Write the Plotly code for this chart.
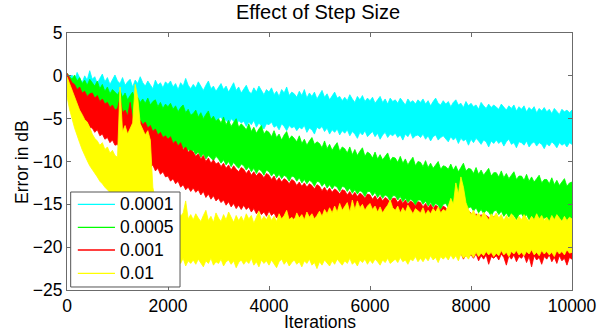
import plotly.graph_objects as go

iterations = list(range(0, 10001, 50))

labels = ["0.0001", "0.0005", "0.001", "0.01"]
colors = ["#00FFFF", "#00FF00", "#FF0000", "#FFFF00"]

cyan_upper = [
    0.3, -0.2, 0.1, -0.6, 0.4, -0.3, -0.8, 0.0, -0.5, 0.6,
    -0.4, -0.1, -0.9, -0.3, 0.2, -0.7, -0.2, -1.0, -0.5, 0.1,
    -0.6, -0.9, -0.2, -1.1, -0.7, -0.4, -1.3, -0.5, -0.9, -0.1,
    -0.8, -1.2, -0.6, -1.0, -1.5, -0.5, -1.1, -0.8, -1.4, -0.7,
    -1.0, -0.6, -1.3, -0.9, -1.6, -0.8, -1.2, -0.3, -1.1, -1.5,
    -1.0, -1.4, -0.7, -1.2, -1.7, -1.1, -0.6, -1.5, -1.2, -1.8,
    -1.3, -0.9, -1.6, -1.2, -1.9, -1.4, -0.8, -1.7, -1.3, -2.0,
    -1.5, -1.1, -1.8, -2.1, -1.4, -1.9, -1.2, -1.7, -2.2, -1.6,
    -1.9, -1.4, -2.2, -1.8, -2.4, -1.6, -2.0, -1.3, -2.3, -1.9,
    -2.1, -2.5, -1.8, -2.3, -1.6, -2.6, -2.0, -2.4, -1.9, -2.7,
    -2.2, -1.7, -2.5, -2.1, -2.8, -2.3, -1.9, -2.6, -2.4, -2.9,
    -2.5, -2.9, -2.2, -2.7, -3.1, -2.4, -2.8, -2.3, -3.0, -2.6,
    -2.9, -2.5, -3.2, -2.8, -2.4, -3.1, -2.7, -3.3, -2.6, -3.0,
    -2.8, -3.2, -2.6, -3.0, -3.4, -2.7, -3.1, -2.9, -3.3, -2.8,
    -3.1, -2.7, -3.3, -2.9, -3.5, -3.0, -2.6, -3.2, -3.4, -2.9,
    -3.3, -3.0, -3.6, -3.1, -2.8, -3.4, -3.2, -3.7, -3.0, -3.5,
    -3.2, -3.6, -3.4, -3.9, -3.1, -3.5, -3.8, -3.3, -3.7, -3.4,
    -3.6, -3.9, -3.3, -3.7, -4.0, -3.5, -3.8, -3.4, -4.1, -3.6,
    -3.9, -3.5, -4.2, -3.7, -4.0, -3.6, -4.3, -3.8, -4.1, -3.7,
    -4.2, -3.9, -4.4, -3.8, -4.1, -4.5, -3.9, -4.2, -4.0, -4.3,
    -4.0,
]
cyan_lower = [
    -1.8, -2.4, -2.1, -2.8, -2.5, -3.0, -2.6, -3.2, -2.9, -3.1,
    -3.4, -3.0, -3.6, -3.2, -3.9, -3.3, -3.5, -4.0, -3.4, -3.8,
    -3.6, -4.1, -3.8, -3.5, -4.3, -3.9, -4.0, -4.6, -3.8, -4.2,
    -4.4, -4.0, -4.7, -4.2, -4.5, -4.1, -4.9, -4.3, -4.6, -4.4,
    -4.5, -4.9, -4.3, -4.7, -5.2, -4.5, -4.8, -4.4, -5.1, -4.7,
    -4.9, -5.3, -4.6, -5.0, -4.8, -5.5, -4.9, -5.2, -4.7, -5.4,
    -5.0, -4.8, -5.4, -5.1, -5.7, -5.0, -5.3, -5.8, -5.2, -5.5,
    -5.3, -5.9, -5.4, -5.7, -5.2, -6.0, -5.5, -5.8, -6.2, -5.6,
    -5.7, -5.4, -6.0, -5.8, -6.3, -5.6, -5.9, -6.4, -5.8, -6.1,
    -5.9, -6.4, -6.0, -6.2, -5.8, -6.6, -6.1, -6.3, -6.8, -6.0,
    -6.2, -5.9, -6.5, -6.1, -6.8, -6.3, -6.6, -6.2, -6.9, -6.4,
    -6.7, -6.3, -7.0, -6.5, -6.8, -7.3, -6.6, -6.9, -6.4, -7.1,
    -6.8, -6.5, -7.1, -6.7, -7.4, -6.9, -6.6, -7.2, -6.8, -7.0,
    -6.7, -7.2, -6.9, -7.5, -6.8, -7.1, -6.6, -7.3, -7.0, -6.9,
    -7.2, -6.8, -7.4, -7.0, -7.6, -7.1, -6.9, -7.5, -7.2, -7.0,
    -7.3, -7.7, -7.1, -7.5, -7.2, -7.9, -7.3, -7.6, -7.4, -8.1,
    -7.4, -7.8, -7.3, -7.6, -8.0, -7.5, -7.7, -8.3, -7.6, -7.9,
    -7.5, -7.9, -7.6, -8.2, -7.7, -7.4, -8.0, -7.8, -8.4, -7.7,
    -7.8, -8.1, -7.6, -8.3, -7.9, -7.7, -8.2, -7.8, -8.0, -8.5,
    -7.9, -8.2, -7.7, -8.0, -8.4, -7.8, -8.1, -7.9, -8.3, -7.8,
    -8.0,
]

green_upper = [
    0.3, 0.0, -0.4, 0.1, -0.6, -0.2, -0.9, -0.5, -1.1, -0.4,
    -0.8, -1.2, -0.6, -1.5, -1.0, -1.8, -1.3, -2.1, -1.6, -1.9,
    -2.2, -1.7, -2.5, -2.0, -2.8, -2.3, -1.9, -2.9, -2.5, -3.1,
    -2.7, -3.2, -2.6, -3.4, -3.0, -2.8, -3.6, -3.1, -3.8, -3.3,
    -3.6, -3.2, -3.9, -3.5, -4.2, -3.7, -3.4, -4.3, -3.9, -4.6,
    -4.4, -4.0, -4.8, -4.3, -5.0, -4.5, -4.1, -5.1, -4.7, -5.3,
    -5.0, -5.5, -4.8, -5.7, -5.2, -5.9, -5.4, -5.0, -6.0, -5.6,
    -5.9, -6.3, -5.6, -6.5, -6.0, -6.7, -6.2, -5.8, -6.8, -6.4,
    -6.6, -7.1, -6.4, -7.2, -6.8, -7.5, -6.9, -6.5, -7.4, -7.0,
    -7.3, -7.7, -7.0, -7.9, -7.4, -8.1, -7.6, -7.2, -8.0, -7.7,
    -7.9, -8.4, -7.6, -8.5, -8.0, -8.7, -8.2, -7.8, -8.8, -8.3,
    -8.5, -9.0, -8.3, -9.2, -8.6, -9.3, -8.8, -8.4, -9.4, -8.9,
    -9.1, -9.6, -8.9, -9.7, -9.2, -9.8, -9.4, -9.0, -9.9, -9.5,
    -9.6, -10.1, -9.4, -10.2, -9.7, -10.4, -9.9, -9.5, -10.5, -10.0,
    -10.1, -10.6, -9.9, -10.7, -10.2, -10.8, -10.4, -10.0, -10.9, -10.5,
    -10.6, -10.9, -10.3, -11.0, -10.5, -11.2, -10.7, -10.2, -11.1, -10.8,
    -10.9, -11.4, -10.7, -11.5, -11.0, -11.6, -11.2, -10.8, -11.7, -11.3,
    -11.3, -11.8, -11.1, -11.9, -11.4, -12.0, -11.6, -11.2, -12.1, -11.7,
    -11.7, -12.2, -11.5, -12.3, -11.8, -12.4, -12.0, -11.6, -12.5, -12.1,
    -12.1, -12.6, -11.9, -12.7, -12.2, -12.8, -12.4, -12.0, -12.9, -12.5,
    -12.4,
]
green_lower = [
    -2.0, -2.6, -3.1, -2.9, -3.6, -3.3, -4.0, -3.8, -4.3, -4.5,
    -4.4, -4.9, -4.6, -5.2, -5.0, -5.5, -5.3, -5.9, -5.6, -6.1,
    -5.9, -6.4, -6.0, -6.6, -6.3, -6.9, -6.5, -6.8, -7.1, -6.7,
    -7.0, -6.8, -7.4, -7.1, -7.6, -7.3, -7.9, -7.5, -7.8, -8.0,
    -7.7, -8.2, -7.9, -8.5, -8.1, -8.7, -8.3, -8.9, -8.6, -9.0,
    -8.7, -9.2, -8.9, -9.5, -9.1, -9.7, -9.3, -9.6, -9.9, -9.4,
    -9.7, -10.2, -9.8, -10.4, -10.0, -10.6, -10.1, -10.5, -10.8, -10.3,
    -10.5, -11.0, -10.6, -11.2, -10.8, -11.4, -10.9, -11.1, -11.6, -11.0,
    -11.2, -11.7, -11.3, -11.9, -11.5, -12.0, -11.6, -11.8, -12.3, -11.7,
    -11.8, -12.3, -11.9, -12.5, -12.1, -12.6, -12.2, -12.4, -12.9, -12.3,
    -12.4, -12.9, -12.5, -13.1, -12.7, -13.2, -12.8, -13.0, -13.5, -12.9,
    -13.0, -13.5, -13.1, -13.7, -13.3, -13.8, -13.4, -13.6, -14.1, -13.5,
    -13.5, -14.0, -13.6, -14.2, -13.8, -14.3, -13.9, -14.1, -14.6, -14.0,
    -14.0, -14.5, -14.1, -14.7, -14.3, -14.8, -14.4, -14.6, -15.1, -14.5,
    -14.5, -15.0, -14.6, -15.2, -14.8, -15.3, -14.9, -15.1, -15.6, -15.0,
    -14.9, -15.4, -15.0, -15.6, -15.2, -15.7, -15.3, -15.5, -16.0, -15.4,
    -15.3, -15.8, -15.4, -16.0, -15.6, -16.1, -15.7, -15.9, -16.4, -15.8,
    -15.7, -16.2, -15.8, -16.4, -16.0, -16.5, -16.1, -16.3, -16.8, -16.2,
    -16.1, -16.6, -16.2, -16.8, -16.4, -16.9, -16.5, -16.7, -17.2, -16.6,
    -16.5, -17.0, -16.6, -17.1, -16.7, -17.2, -16.8, -17.0, -17.4, -16.9,
    -17.0,
]

red_upper = [
    0.3, -0.3, -0.8, -1.0, -1.6, -1.3, -2.0, -1.8, -2.4, -2.1,
    -2.0, -2.6, -2.3, -3.0, -2.7, -3.3, -3.1, -3.7, -3.4, -4.0,
    -3.8, -2.6, -4.3, -4.0, -4.7, -3.1, -5.0, -4.8, -5.5, -5.2,
    -5.7, -5.4, -6.1, -5.8, -6.5, -6.2, -6.9, -6.6, -7.2, -7.0,
    -7.4, -7.1, -7.9, -7.6, -8.2, -7.8, -8.6, -8.3, -8.9, -8.7,
    -8.9, -9.4, -9.1, -9.7, -9.3, -10.0, -9.6, -10.2, -9.8, -10.3,
    -10.1, -10.6, -10.2, -10.8, -10.4, -11.0, -10.5, -10.9, -11.2, -10.7,
    -10.9, -11.4, -11.0, -11.6, -11.2, -11.7, -11.3, -11.5, -11.9, -11.4,
    -11.6, -12.1, -11.7, -12.3, -11.9, -12.4, -12.0, -12.2, -12.6, -12.1,
    -12.3, -12.8, -12.4, -12.9, -12.5, -13.0, -12.6, -12.8, -13.2, -12.7,
    -12.9, -13.4, -13.0, -13.5, -13.1, -13.6, -13.2, -13.4, -13.8, -13.3,
    -13.4, -13.9, -13.5, -14.0, -13.6, -14.1, -13.7, -13.9, -14.3, -13.8,
    -13.9, -14.4, -14.0, -14.5, -14.1, -14.6, -14.2, -14.4, -14.8, -14.3,
    -14.3, -14.8, -14.4, -14.9, -14.5, -15.0, -14.6, -14.8, -15.2, -14.7,
    -14.8, -15.3, -14.9, -15.4, -15.0, -15.5, -15.1, -15.3, -15.7, -15.2,
    -15.4, -15.9, -15.5, -16.0, -15.6, -16.1, -15.7, -15.9, -16.3, -15.8,
    -16.0, -16.5, -16.1, -16.6, -16.2, -16.7, -16.3, -16.5, -16.9, -16.4,
    -16.5, -17.0, -16.6, -17.1, -16.7, -17.2, -16.8, -17.0, -17.4, -16.9,
    -16.9, -17.4, -17.0, -17.5, -17.1, -17.6, -17.2, -17.4, -17.8, -17.3,
    -17.2, -17.7, -17.3, -17.8, -17.4, -17.9, -17.5, -17.7, -18.0, -17.6,
    -17.5,
]
red_lower = [
    -1.6, -2.8, -3.6, -4.1, -4.4, -4.9, -5.1, -5.6, -5.4, -6.0,
    -6.1, -6.6, -6.3, -7.0, -6.8, -7.4, -7.2, -7.8, -7.5, -8.1,
    -8.0, -8.5, -8.2, -8.9, -8.6, -9.2, -8.9, -9.6, -9.3, -9.9,
    -9.8, -10.3, -10.0, -10.7, -10.4, -11.1, -10.8, -11.5, -11.2, -11.8,
    -11.7, -12.3, -12.0, -12.6, -12.3, -13.0, -12.7, -13.3, -13.0, -13.5,
    -13.1, -13.6, -13.3, -13.9, -13.5, -14.2, -13.8, -14.4, -14.0, -14.6,
    -14.3, -14.8, -14.5, -15.1, -14.7, -15.3, -14.9, -15.5, -15.1, -15.6,
    -15.1, -15.6, -15.3, -15.9, -15.5, -16.1, -15.7, -16.2, -15.9, -16.4,
    -15.8, -16.3, -16.0, -16.6, -16.2, -16.8, -16.4, -16.9, -16.6, -17.1,
    -16.5, -17.0, -16.7, -17.3, -16.9, -17.4, -17.0, -17.5, -17.2, -17.7,
    -17.1, -17.6, -17.3, -17.9, -17.5, -18.0, -17.6, -18.1, -17.8, -18.3,
    -17.6, -18.1, -17.8, -18.4, -18.0, -18.5, -18.1, -18.6, -18.3, -18.8,
    -18.1, -18.6, -18.3, -18.9, -18.5, -19.0, -18.6, -19.1, -18.8, -19.3,
    -18.5, -19.0, -18.7, -19.3, -18.9, -19.4, -19.0, -19.5, -19.2, -19.7,
    -19.0, -19.5, -19.2, -19.8, -19.4, -19.9, -19.5, -20.0, -19.7, -20.2,
    -20.3, -20.8, -20.5, -21.0, -20.6, -21.1, -20.7, -21.4, -20.9, -21.2,
    -20.9, -21.3, -20.8, -21.6, -21.0, -21.4, -20.9, -22.0, -21.1, -21.3,
    -21.0, -21.5, -20.8, -21.2, -22.1, -21.0, -21.4, -20.9, -21.7, -21.1,
    -21.3, -20.9, -21.8, -21.1, -22.3, -21.0, -21.5, -21.2, -22.0, -21.1,
    -21.4, -20.9, -21.7, -21.2, -21.9, -21.0, -21.6, -21.3, -22.1, -21.2,
    -21.4,
]

yellow_upper = [
    -0.1, -0.9, -1.7, -2.6, -3.3, -4.0, -4.5, -5.1, -5.4, -6.0,
    -6.8, -7.3, -7.6, -8.1, -7.8, -8.6, -8.3, -9.0, -8.7, -9.3,
    -9.5, -1.3, -6.5, -5.8, -6.8, -6.2, -5.5, -1.0, -2.5, -5.6,
    -6.2, -6.9, -6.4, -7.5, -13.0, -14.5, -15.2, -16.0, -15.4, -16.3,
    -15.8, -16.5, -16.1, -16.9, -15.6, -16.4, -16.0, -14.6, -16.7, -16.2,
    -16.8, -16.1, -16.6, -17.0, -16.3, -15.7, -16.9, -16.4, -17.1, -16.0,
    -16.6, -17.0, -16.2, -16.8, -15.9, -16.5, -17.1, -16.3, -16.9, -16.4,
    -17.0, -16.1, -16.7, -16.3, -17.2, -16.5, -15.8, -16.9, -16.4, -16.8,
    -16.2, -16.9, -16.4, -17.0, -16.1, -16.7, -16.3, -15.7, -16.8, -16.5,
    -16.9, -16.0, -16.6, -16.2, -16.8, -15.9, -16.5, -16.1, -16.7, -16.3,
    -15.8, -16.4, -15.6, -16.1, -15.4, -16.0, -15.2, -15.9, -14.9, -15.7,
    -15.3, -14.8, -15.9, -14.5, -15.6, -14.6, -15.4, -15.0, -15.7, -15.2,
    -14.9, -15.6, -15.2, -15.9, -15.3, -16.0, -15.5, -15.1, -14.5, -15.4,
    -15.7, -15.2, -16.0, -15.4, -15.9, -15.1, -15.6, -16.1, -15.5, -15.8,
    -16.0, -15.4, -16.2, -15.7, -16.1, -15.5, -15.9, -15.3, -16.0, -15.6,
    -15.8, -15.2, -14.3, -15.0, -12.5, -13.8, -11.8, -13.0, -14.8, -15.6,
    -16.2, -15.7, -16.4, -16.0, -16.6, -15.9, -16.3, -16.8, -16.1, -16.5,
    -16.0, -16.6, -16.2, -16.9, -16.3, -16.7, -16.1, -16.5, -16.9, -16.4,
    -16.8, -16.2, -16.6, -17.0, -16.4, -16.8, -16.1, -16.7, -16.3, -16.9,
    -16.5, -17.0, -16.3, -16.8, -16.2, -16.6, -17.0, -16.4, -16.9, -16.5,
    -16.7,
]
yellow_lower = [
    -2.4, -3.9, -5.0, -6.1, -7.0, -7.8, -8.6, -9.3, -9.9, -10.5,
    -10.9, -11.4, -11.8, -12.3, -12.6, -13.0, -13.3, -13.7, -13.9, -14.2,
    -14.5, -14.9, -15.2, -15.6, -16.0, -16.4, -16.8, -17.2, -17.6, -18.0,
    -18.4, -18.8, -19.2, -19.6, -20.0, -20.4, -20.7, -21.0, -21.3, -21.6,
    -21.2, -21.8, -21.4, -22.0, -21.5, -21.9, -21.3, -22.2, -21.6, -21.9,
    -21.5, -22.0, -21.4, -21.8, -22.3, -21.6, -21.9, -21.3, -22.1, -21.7,
    -21.9, -21.4, -22.2, -21.7, -21.5, -22.0, -21.6, -22.4, -21.8, -21.5,
    -22.0, -21.6, -21.9, -21.3, -22.1, -21.7, -22.3, -21.5, -21.9, -21.6,
    -22.1, -21.5, -21.9, -22.4, -21.7, -21.4, -22.0, -21.6, -22.2, -21.8,
    -21.5, -22.0, -21.7, -22.3, -21.6, -21.9, -21.4, -22.1, -21.8, -22.5,
    -21.7, -22.1, -21.5, -21.9, -22.2, -21.6, -22.0, -21.4, -21.8, -22.1,
    -21.6, -21.9, -21.3, -22.0, -21.7, -22.2, -21.5, -21.8, -21.4, -22.0,
    -21.5, -21.9, -21.4, -21.7, -22.1, -21.5, -21.8, -21.3, -21.9, -21.6,
    -21.4, -21.8, -21.2, -21.7, -21.5, -22.0, -21.4, -21.6, -21.1, -21.7,
    -21.3, -21.7, -21.2, -21.6, -21.0, -21.5, -21.2, -21.8, -21.1, -21.4,
    -21.1, -21.5, -20.9, -21.4, -21.0, -21.6, -20.8, -21.3, -21.0, -21.4,
    -20.8, -21.2, -20.6, -21.1, -20.7, -21.0, -20.5, -20.9, -20.6, -21.1,
    -20.7, -21.0, -20.4, -20.9, -20.6, -21.1, -20.5, -20.8, -20.4, -20.9,
    -20.6, -21.0, -20.5, -20.8, -20.3, -20.9, -20.6, -21.0, -20.4, -20.8,
    -20.5, -20.9, -20.6, -21.1, -20.4, -20.8, -20.5, -20.9, -20.3, -20.7,
    -20.6,
]

uppers = [cyan_upper, green_upper, red_upper, yellow_upper]
lowers = [cyan_lower, green_lower, red_lower, yellow_lower]
for arr in uppers + lowers:
    assert len(arr) == len(iterations), len(arr)

x_ticks = [0, 2000, 4000, 6000, 8000, 10000]
x_ticktext = ["0", "2000", "4000", "6000", "8000", "10000"]
y_ticks = [5, 0, -5, -10, -15, -20, -25]

FONT = "Liberation Sans, Arial, sans-serif"

fig = go.Figure()
for lab, col, up, lo in zip(labels, colors, uppers, lowers):
    fig.add_trace(go.Scatter(
        x=iterations + iterations[::-1],
        y=up + lo[::-1],
        fill="toself", fillcolor=col,
        mode="lines", line=dict(color=col, width=0.8),
        name=lab, showlegend=False, hoverinfo="skip",
    ))

axis_common = dict(
    showgrid=False, zeroline=False, showline=True, linecolor="#6b6b6b",
    linewidth=1, mirror="ticks", ticks="inside", ticklen=4, tickcolor="#6b6b6b",
    tickfont=dict(family=FONT, size=17.5, color="black"), automargin=False,
)
fig.update_xaxes(range=[0, 10000], tickvals=x_ticks, ticktext=x_ticktext, **axis_common)
fig.update_yaxes(range=[-25, 5], tickvals=y_ticks, **axis_common)

# legend box drawn inside the axes (paper coordinates of the plot area)
shapes = [dict(type="rect", xref="paper", yref="paper", x0=0.0073, x1=0.2238,
               y0=0.0117, y1=0.3813, fillcolor="white",
               line=dict(color="#555555", width=1), layer="above")]
annotations = []
legend_rows = [0.3335, 0.2440, 0.1556, 0.0650]
for lab, col, yy in zip(labels, colors, legend_rows):
    shapes.append(dict(type="line", xref="paper", yref="paper", x0=0.0214, x1=0.0950,
                       y0=yy, y1=yy, line=dict(color=col, width=1.3), layer="above"))
    annotations.append(dict(text=lab, xref="paper", yref="paper", x=0.1000, y=yy,
                            xanchor="left", yanchor="middle", showarrow=False,
                            font=dict(family=FONT, size=17.5, color="black")))

annotations += [
    dict(text="Iterations", xref="paper", yref="paper", x=0.5, y=-0.1245,
         xanchor="center", yanchor="middle", showarrow=False,
         font=dict(family=FONT, size=17.5, color="black")),
    dict(text="Error in dB", xref="paper", yref="paper", x=-0.0901, y=0.5,
         xanchor="center", yanchor="middle", textangle=-90, showarrow=False,
         font=dict(family=FONT, size=17.5, color="black")),
]

fig.update_layout(
    width=607, height=335,
    margin=dict(l=67, r=35, t=33, b=45, autoexpand=False),
    paper_bgcolor="white", plot_bgcolor="white",
    title=dict(text="Effect of Step Size", x=0.524, xanchor="center", y=0.964, yanchor="middle",
               font=dict(family=FONT, size=20, color="black")),
    showlegend=False,
    shapes=shapes,
    annotations=annotations,
)

fig.write_html("out.html", config={"displayModeBar": False},
               post_script="document.body.style.margin='0';")
